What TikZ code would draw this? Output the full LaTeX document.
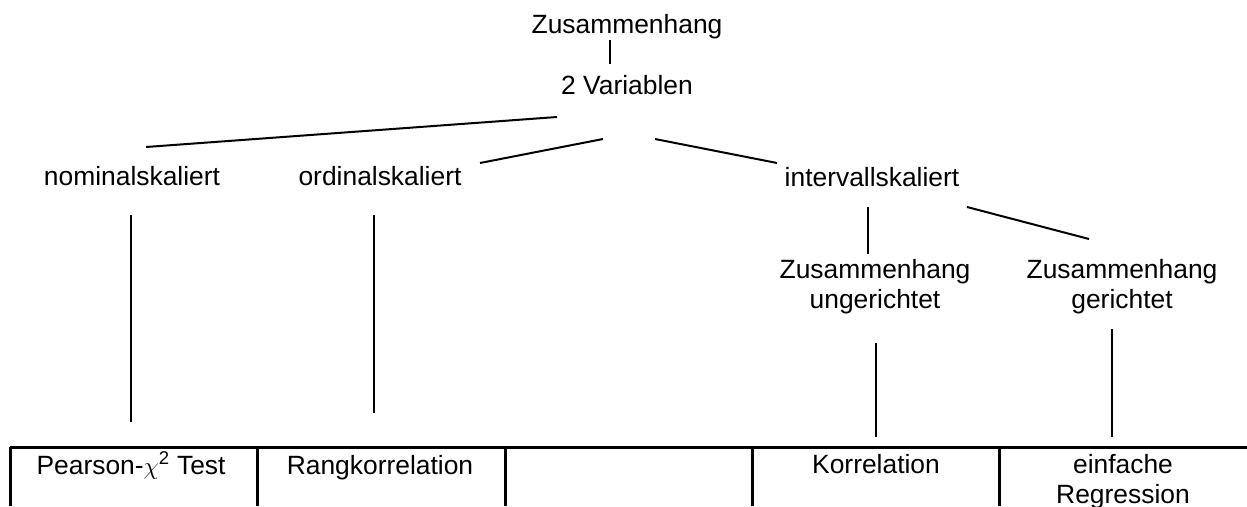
\documentclass[tikz,border=0pt]{standalone}
\usepackage{fontspec}
\setmainfont{Liberation Sans}
\begin{document}
\begin{tikzpicture}[x=1pt,y=-1pt,
  lbl/.style={inner sep=0pt,anchor=base,font=\fontsize{26.4pt}{30pt}\selectfont},
  lbltwo/.style={inner sep=0pt,anchor=north,align=center,font=\fontsize{26.4pt}{30pt}\selectfont},
  conn/.style={line width=2pt},
  tab/.style={line width=3pt}]
\useasboundingbox (0,0) rectangle (1247,506);
% labels
\node[lbl] (zus) at (627,33) {Zusammenhang};
\node[lbl] (var) at (627,94) {2 Variablen};
\node[lbl] (nom) at (132,185) {nominalskaliert};
\node[lbl] (ord) at (380,185) {ordinalskaliert};
\node[lbl] (int) at (872,186) {intervallskaliert};
\node[lbltwo] (ung) at (875,259) {Zusammenhang\\ungerichtet};
\node[lbltwo] (ger) at (1122,259) {Zusammenhang\\gerichtet};
% table cells text
\node[lbl] (pear) at (131,474) {Pearson-$\chi$\textsuperscript{2} Test};
\node[lbl] (rang) at (380,474) {Rangkorrelation};
\node[lbl] (korr) at (876,473) {Korrelation};
\node[lbltwo] (reg) at (1123,454) {einfache\\Regression};
% connector end points
\coordinate (z1) at (610,40);  \coordinate (z2) at (610,64);
\coordinate (a1) at (557,117); \coordinate (a2) at (146,147);
\coordinate (b1) at (603,139); \coordinate (b2) at (480,163);
\coordinate (c1) at (655,139); \coordinate (c2) at (777,163);
\coordinate (n1) at (131,215); \coordinate (n2) at (131,422);
\coordinate (o1) at (374,215); \coordinate (o2) at (374,413);
\coordinate (i1) at (868,207); \coordinate (i2) at (868,254);
\coordinate (g1) at (967,207); \coordinate (g2) at (1089,239);
\coordinate (u1) at (876,343); \coordinate (u2) at (876,437);
\coordinate (r1) at (1112,329); \coordinate (r2) at (1112,437);
\draw[conn] (z1) -- (z2);
\draw[conn] (a1) -- (a2);
\draw[conn] (b1) -- (b2);
\draw[conn] (c1) -- (c2);
\draw[conn] (n1) -- (n2);
\draw[conn] (o1) -- (o2);
\draw[conn] (i1) -- (i2);
\draw[conn] (g1) -- (g2);
\draw[conn] (u1) -- (u2);
\draw[conn] (r1) -- (r2);
% table
\coordinate (t0) at (10,447);  \coordinate (tE) at (1247,447);
\draw[tab] (t0) -- (tE);
\foreach \x in {10,257,505,752,999}{
  \draw[tab] (\x,447) -- (\x,506);
}
\end{tikzpicture}
\end{document}
